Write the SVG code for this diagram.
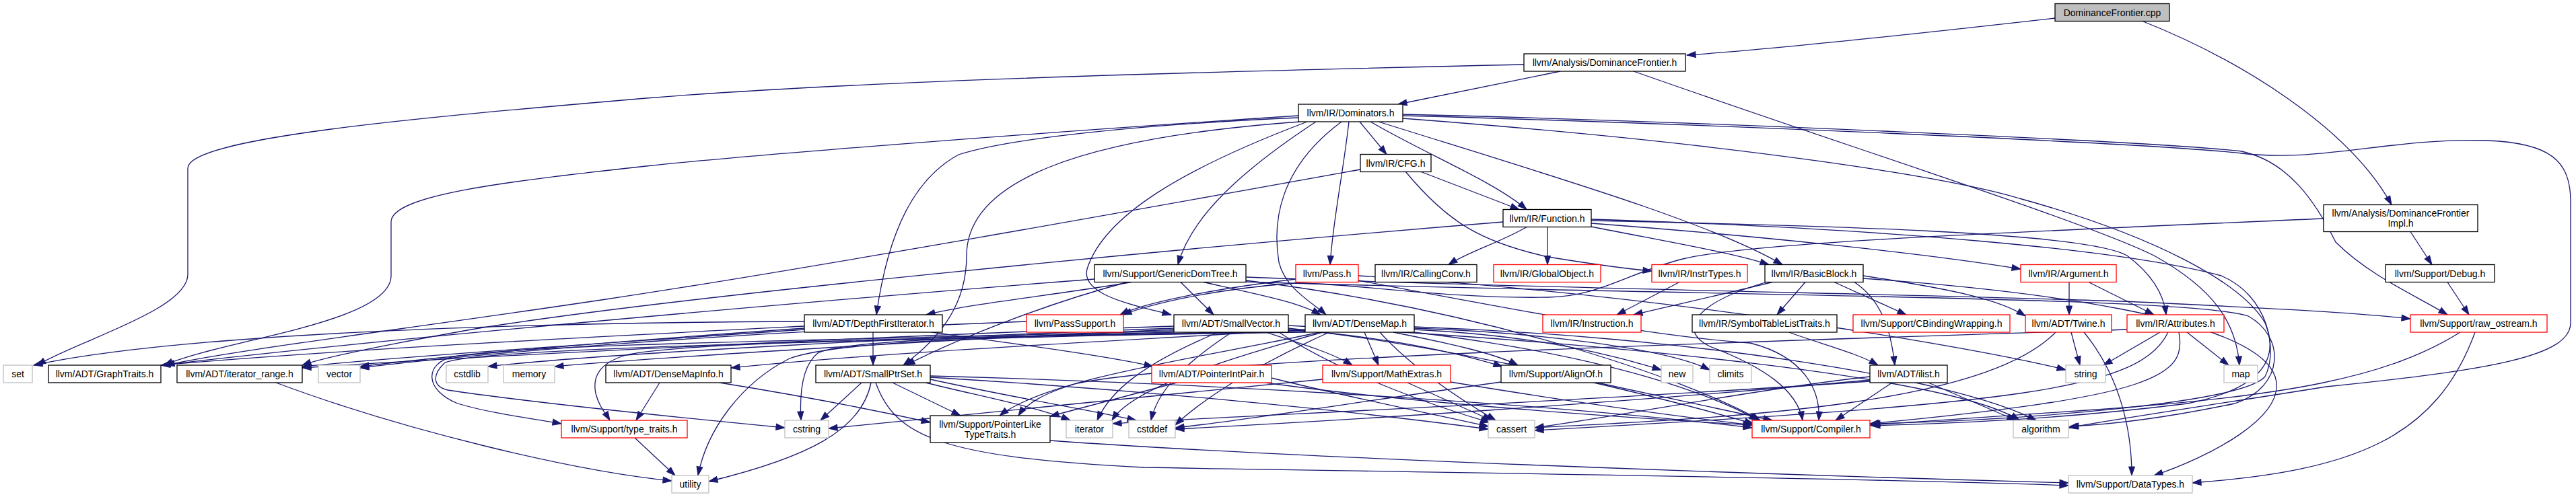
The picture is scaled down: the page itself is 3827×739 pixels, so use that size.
<svg xmlns="http://www.w3.org/2000/svg" width="3827" height="739" viewBox="0 0 3827 739">
<style>
.n rect{fill:#fff;stroke:#000;stroke-width:1.3}
.n.r rect{stroke:#ff0000}
.n.g rect{stroke:#bfbfbf}
.n.root rect{fill:#bfbfbf}
.n text{font-family:"Liberation Sans",Arial,sans-serif;font-size:14px;text-anchor:middle;fill:#000}
#edges path{fill:none;stroke:#191970;stroke-width:1.3;marker-end:url(#a)}
</style>
<defs>
<marker id="a" markerUnits="userSpaceOnUse" markerWidth="15" markerHeight="11" refX="13" refY="4.5" orient="auto" overflow="visible">
<path d="M0,0 L13,4.5 L0,9 z" fill="#191970" stroke="#191970" stroke-width="1"/>
</marker>
</defs>
<rect width="3827" height="739" fill="#fff"/>
<g id="edges">
<path d="M3053,27 C2850,50 2650,72 2506,82"/>
<path d="M3183,31.5 C3330,90 3490,190 3553,304.5"/>
<path d="M2318,106 L2077,155"/>
<path d="M2264,96 C1900,104 1300,118 960,146 C620,175 279,205 279,250 L279,408 C279,460 120,505 55,543"/>
<path d="M2427,106 C2750,220 3100,330 3200,380 C3290,430 3322,480 3327,543"/>
<path d="M1929,172 C1500,200 1100,232 960,247 C750,270 581,290 581,330 L581,410 C581,480 330,505 244,543"/>
<path d="M1929,175 C1700,185 1500,205 1424,230 C1360,265 1320,340 1302,468"/>
<path d="M1932,181 C1600,205 1436,270 1436,380 C1436,450 1400,500 1342,543"/>
<path d="M1942,181 C1760,250 1640,320 1615,400 C1605,440 1690,455 1740,468"/>
<path d="M1955,181 C1850,250 1770,320 1750,393.5"/>
<path d="M1993,181 C1900,250 1890,330 1900,390 C1910,430 1950,450 1970,468"/>
<path d="M2004,181 C1995,260 1980,330 1976,393.5"/>
<path d="M2020,181 L2060,229.5"/>
<path d="M2036,181 C2120,230 2220,270 2268,311.5"/>
<path d="M2048,181 C2300,260 2540,330 2648,393.5"/>
<path d="M2084,170 C2500,180 3200,210 3330,225 C3400,240 3440,300 3470,360 C3520,410 3590,440 3636,468"/>
<path d="M2084,172 C2500,183 3200,213 3330,228 C3450,242 3550,205 3693,209 C3790,212 3819,240 3819,300 L3819,480 C3819,530 3700,550 3456,575 C3300,600 3150,622 3073,636"/>
<path d="M2084,176 C2600,215 2900,265 3000,295 C3200,350 3330,420 3365,480 C3390,540 3350,580 3250,600 C3050,625 2880,630 2780,633"/>
<path d="M2021,252 C1700,310 1200,400 900,445 C600,490 350,520 246,543"/>
<path d="M2110,255 L2257,311.5"/>
<path d="M2088,255 C2150,330 2200,360 2300,382 C2380,395 2420,400 2454,403"/>
<path d="M2233,330 C1800,365 1000,440 700,490 C560,515 480,532 449,543"/>
<path d="M2269,337 C2230,360 2180,375 2152,393.5"/>
<path d="M2299,337 L2299,393.5"/>
<path d="M2364,337 C2480,360 2570,375 2628,393.5"/>
<path d="M2364,332 C2600,350 2850,375 3002,400"/>
<path d="M2364,328 C2700,335 3100,345 3160,380 C3200,410 3215,440 3218,468"/>
<path d="M2364,326 C2800,340 3150,370 3300,410 C3370,440 3385,520 3365,560 C3330,600 3000,625 2780,630"/>
<path d="M3581,344.5 L3613,393.5"/>
<path d="M3452,325 C3000,345 2600,360 2500,385 C2420,405 2380,440 2300,442 C2150,445 2000,420 1925,421 C1800,430 1710,452 1668,468"/>
<path d="M3636,419.5 L3668,468"/>
<path d="M3655,494 C3550,560 3400,590 3100,610 C2950,620 2850,628 2778,632"/>
<path d="M3677,494 C3620,650 3500,700 3257,718"/>
<path d="M1626,415 C1300,440 600,500 240,543"/>
<path d="M1681,419.5 C1560,440 1450,450 1376,468"/>
<path d="M1675,419.5 C1560,450 1430,500 1346,543"/>
<path d="M1754,419.5 L1803,468"/>
<path d="M1788,419.5 C1880,440 1930,450 1962,468"/>
<path d="M1851,412 C2300,430 3000,440 3200,450 C3400,460 3500,465 3581,474"/>
<path d="M1851,417 C2200,460 2500,560 2615,625"/>
<path d="M1851,419 C2500,440 3250,440 3340,470 C3395,500 3395,575 3320,600 C3200,625 3120,632 3075,634"/>
<path d="M1925,415 C1800,430 1700,450 1664,468"/>
<path d="M2018,417 C2250,460 2450,500 2600,510 C2680,530 2705,580 2702,625"/>
<path d="M2018,410 C2500,440 2950,520 3069,550"/>
<path d="M2495,419.5 L2402,468"/>
<path d="M2633,419.5 C2550,440 2480,455 2427,468"/>
<path d="M2682,419.5 L2640,468"/>
<path d="M2725,419.5 L2832,468"/>
<path d="M2624,419.5 C2520,450 2490,490 2540,515 C2620,545 2670,580 2678,625"/>
<path d="M2768,410 C2900,430 2970,445 3009,470"/>
<path d="M2755,419.5 C2800,450 2810,500 2815,543"/>
<path d="M2768,414 C3000,430 3350,470 3380,560 C3400,620 3280,680 3200,707"/>
<path d="M3074,419.5 L3074,468"/>
<path d="M3103,419.5 L3200,468"/>
<path d="M3077,494 L3090,543"/>
<path d="M3096,494 C3150,560 3167,640 3167,707"/>
<path d="M3054,494 C2950,600 2600,620 2280,636"/>
<path d="M3209,494 L3125,543"/>
<path d="M3249,494 L3311,543"/>
<path d="M3221,494 C3180,580 3000,600 2280,640"/>
<path d="M3237,494 C3250,560 3200,590 2778,630"/>
<path d="M3160,490 C2700,505 1800,530 1600,570 C1550,585 1525,600 1513,618"/>
<path d="M1195,485 C900,500 500,520 239,543"/>
<path d="M1195,490 C900,510 600,530 449,545"/>
<path d="M1195,478 C700,480 250,500 50,543"/>
<path d="M1195,488 C950,505 700,525 535,545"/>
<path d="M1297,494 L1297,543"/>
<path d="M1384,494 C1500,510 1650,530 1713,545"/>
<path d="M1744,485 C1300,500 700,530 449,547"/>
<path d="M1744,488 C1400,500 900,525 725,545"/>
<path d="M1744,490 C1400,505 1000,530 824,545"/>
<path d="M1744,492 C1300,505 800,510 674,530 C630,540 630,580 680,600 C730,615 790,622 834,630"/>
<path d="M1939,491 C1400,505 700,515 660,540 C640,560 645,575 665,580 C800,600 1000,620 1166,636"/>
<path d="M1744,494 C1500,500 1250,505 1215,525 C1190,545 1188,590 1190,625"/>
<path d="M1914,490 C2050,500 2150,520 2232,545"/>
<path d="M1880,494 C1930,510 1980,525 2009,543"/>
<path d="M1914,488 C2200,520 2500,600 2605,630"/>
<path d="M1914,484 C2400,510 2900,560 3000,625"/>
<path d="M1900,494 C2000,560 2150,610 2213,628"/>
<path d="M1830,494 C1760,540 1720,580 1710,625"/>
<path d="M1810,494 C1700,540 1650,580 1630,625"/>
<path d="M1939,490 C1600,510 1300,525 1086,547"/>
<path d="M2070,494 C2150,510 2220,525 2255,543"/>
<path d="M2027,494 L2048,543"/>
<path d="M2101,490 C2300,500 2400,530 2468,550"/>
<path d="M2101,488 C2300,495 2480,520 2540,550"/>
<path d="M2101,494 C2400,530 2550,590 2612,625"/>
<path d="M2050,494 C2100,550 2180,600 2222,625"/>
<path d="M1960,494 C1800,530 1560,560 1485,618"/>
<path d="M1965,494 C1800,540 1680,580 1652,625"/>
<path d="M1975,494 C1850,550 1780,600 1746,632"/>
<path d="M1939,494 C1500,500 1250,505 1173,533 C1100,570 1050,640 1037,707"/>
<path d="M2101,486 C2500,500 2900,560 3025,625"/>
<path d="M1939,493 C1400,500 1000,510 930,528 C890,540 880,560 885,585 C890,605 900,615 906,625"/>
<path d="M980,569 L945,625"/>
<path d="M1069,569 C1200,590 1300,610 1382,628"/>
<path d="M1280,569 L1219,625"/>
<path d="M1294,569 C1280,640 1200,680 1053,716"/>
<path d="M1301,569 C1330,650 1400,680 1700,695 C2300,705 2800,712 3073,722"/>
<path d="M1326,569 L1427,618"/>
<path d="M1375,569 C1460,590 1540,605 1590,625"/>
<path d="M1382,564 C1500,590 1620,610 1688,625"/>
<path d="M1382,561 C1700,580 2000,610 2211,638"/>
<path d="M1382,559 C1800,570 2300,600 2603,636"/>
<path d="M1748,569 L1560,619"/>
<path d="M1889,562 C2000,590 2150,620 2211,634"/>
<path d="M1880,569 C2100,600 2400,620 2603,632"/>
<path d="M1560,655 C1900,680 2600,705 3073,718"/>
<path d="M943,651 L1003,707"/>
<path d="M410,569 C600,640 850,700 998,715"/>
<path d="M2091,569 L2216,625"/>
<path d="M1965,564 C1700,590 1400,620 1231,637"/>
<path d="M2155,568 C2350,600 2500,620 2603,632"/>
<path d="M2373,569 L2633,625"/>
<path d="M2230,568 C2000,600 1850,625 1746,636"/>
<path d="M2811,569 L2727,625"/>
<path d="M2865,569 L2995,625"/>
<path d="M2778,560 C2600,580 2400,620 2280,636"/>
<path d="M2778,565 C2400,600 2000,625 1746,638"/>
<path d="M2778,567 C2300,600 1800,620 1653,630"/>
<path d="M2658,494 C2700,510 2760,525 2790,543"/>
<path d="M1525,478 C1200,490 800,515 535,547"/>
</g>
<g id="n_cpp" class="n root"><rect x="3053" y="5.5" width="170" height="26"/><text x="3138" y="23.5">DominanceFrontier.cpp</text></g>
<g id="n_dfh" class="n"><rect x="2264" y="80" width="240" height="26"/><text x="2384" y="98">llvm/Analysis/DominanceFrontier.h</text></g>
<g id="n_dom" class="n"><rect x="1929" y="155" width="155" height="26"/><text x="2006.5" y="173">llvm/IR/Dominators.h</text></g>
<g id="n_cfg" class="n"><rect x="2021" y="229.5" width="105" height="26"/><text x="2073.5" y="247.5">llvm/IR/CFG.h</text></g>
<g id="n_func" class="n"><rect x="2233" y="311.5" width="131" height="26"/><text x="2298.5" y="329.5">llvm/IR/Function.h</text></g>
<g id="n_dfimpl" class="n"><rect x="3452" y="304.5" width="229" height="40"/><text x="3566.5" y="322">llvm/Analysis/DominanceFrontier</text><text x="3566.5" y="337">Impl.h</text></g>
<g id="n_gdt" class="n"><rect x="1626" y="393.5" width="225" height="26"/><text x="1738.5" y="411.5">llvm/Support/GenericDomTree.h</text></g>
<g id="n_pass" class="n r"><rect x="1925" y="393.5" width="93" height="26"/><text x="1971.5" y="411.5">llvm/Pass.h</text></g>
<g id="n_cc" class="n"><rect x="2043" y="393.5" width="151" height="26"/><text x="2118.5" y="411.5">llvm/IR/CallingConv.h</text></g>
<g id="n_go" class="n r"><rect x="2219" y="393.5" width="159" height="26"/><text x="2298.5" y="411.5">llvm/IR/GlobalObject.h</text></g>
<g id="n_it" class="n r"><rect x="2454" y="393.5" width="142" height="26"/><text x="2525" y="411.5">llvm/IR/InstrTypes.h</text></g>
<g id="n_bb" class="n"><rect x="2622" y="393.5" width="146" height="26"/><text x="2695" y="411.5">llvm/IR/BasicBlock.h</text></g>
<g id="n_arg" class="n r"><rect x="3002" y="393.5" width="142" height="26"/><text x="3073" y="411.5">llvm/IR/Argument.h</text></g>
<g id="n_debug" class="n"><rect x="3544" y="393.5" width="162" height="26"/><text x="3625" y="411.5">llvm/Support/Debug.h</text></g>
<g id="n_dfi" class="n"><rect x="1195" y="468" width="205" height="26"/><text x="1297.5" y="486">llvm/ADT/DepthFirstIterator.h</text></g>
<g id="n_ps" class="n r"><rect x="1525" y="468" width="144" height="26"/><text x="1597" y="486">llvm/PassSupport.h</text></g>
<g id="n_sv" class="n"><rect x="1744" y="468" width="170" height="26"/><text x="1829" y="486">llvm/ADT/SmallVector.h</text></g>
<g id="n_dm" class="n"><rect x="1939" y="468" width="162" height="26"/><text x="2020" y="486">llvm/ADT/DenseMap.h</text></g>
<g id="n_inst" class="n r"><rect x="2292" y="468" width="146" height="26"/><text x="2365" y="486">llvm/IR/Instruction.h</text></g>
<g id="n_stlt" class="n"><rect x="2514" y="468" width="215" height="26"/><text x="2621.5" y="486">llvm/IR/SymbolTableListTraits.h</text></g>
<g id="n_cbw" class="n r"><rect x="2753" y="468" width="233" height="26"/><text x="2869.5" y="486">llvm/Support/CBindingWrapping.h</text></g>
<g id="n_twine" class="n r"><rect x="3009" y="468" width="128" height="26"/><text x="3073" y="486">llvm/ADT/Twine.h</text></g>
<g id="n_attr" class="n r"><rect x="3160" y="468" width="144" height="26"/><text x="3232" y="486">llvm/IR/Attributes.h</text></g>
<g id="n_ros" class="n r"><rect x="3581" y="468" width="203" height="26"/><text x="3682.5" y="486">llvm/Support/raw_ostream.h</text></g>
<g id="n_set" class="n g"><rect x="5" y="543" width="43" height="26"/><text x="26.5" y="561">set</text></g>
<g id="n_gt" class="n"><rect x="72" y="543" width="167" height="26"/><text x="155.5" y="561">llvm/ADT/GraphTraits.h</text></g>
<g id="n_ir" class="n"><rect x="263" y="543" width="186" height="26"/><text x="356" y="561">llvm/ADT/iterator_range.h</text></g>
<g id="n_vector" class="n g"><rect x="473" y="543" width="62" height="26"/><text x="504" y="561">vector</text></g>
<g id="n_cstdlib" class="n g"><rect x="663" y="543" width="62" height="26"/><text x="694" y="561">cstdlib</text></g>
<g id="n_memory" class="n g"><rect x="748" y="543" width="76" height="26"/><text x="786" y="561">memory</text></g>
<g id="n_dmi" class="n"><rect x="900" y="543" width="186" height="26"/><text x="993" y="561">llvm/ADT/DenseMapInfo.h</text></g>
<g id="n_sps" class="n"><rect x="1212" y="543" width="170" height="26"/><text x="1297" y="561">llvm/ADT/SmallPtrSet.h</text></g>
<g id="n_pip" class="n r"><rect x="1711" y="543" width="178" height="26"/><text x="1800" y="561">llvm/ADT/PointerIntPair.h</text></g>
<g id="n_me" class="n r"><rect x="1965" y="543" width="190" height="26"/><text x="2060" y="561">llvm/Support/MathExtras.h</text></g>
<g id="n_ao" class="n"><rect x="2230" y="543" width="163" height="26"/><text x="2311.5" y="561">llvm/Support/AlignOf.h</text></g>
<g id="n_new" class="n g"><rect x="2468" y="543" width="47" height="26"/><text x="2491.5" y="561">new</text></g>
<g id="n_climits" class="n g"><rect x="2540" y="543" width="62" height="26"/><text x="2571" y="561">climits</text></g>
<g id="n_ilist" class="n"><rect x="2778" y="543" width="115" height="26"/><text x="2835.5" y="561">llvm/ADT/ilist.h</text></g>
<g id="n_string" class="n g"><rect x="3069" y="543" width="59" height="26"/><text x="3098.5" y="561">string</text></g>
<g id="n_map" class="n g"><rect x="3304" y="543" width="50" height="26"/><text x="3329" y="561">map</text></g>
<g id="n_tt" class="n r"><rect x="834" y="625" width="187" height="26"/><text x="927.5" y="643">llvm/Support/type_traits.h</text></g>
<g id="n_cstring" class="n g"><rect x="1166" y="625" width="65" height="26"/><text x="1198.5" y="643">cstring</text></g>
<g id="n_pltt" class="n"><rect x="1382" y="618" width="178" height="40"/><text x="1471" y="635.5">llvm/Support/PointerLike</text><text x="1471" y="650.5">TypeTraits.h</text></g>
<g id="n_iterator" class="n g"><rect x="1584" y="625" width="69" height="26"/><text x="1618.5" y="643">iterator</text></g>
<g id="n_cstddef" class="n g"><rect x="1677" y="625" width="69" height="26"/><text x="1711.5" y="643">cstddef</text></g>
<g id="n_cassert" class="n g"><rect x="2211" y="625" width="69" height="26"/><text x="2245.5" y="643">cassert</text></g>
<g id="n_comp" class="n r"><rect x="2603" y="625" width="175" height="26"/><text x="2690.5" y="643">llvm/Support/Compiler.h</text></g>
<g id="n_algo" class="n g"><rect x="2991" y="625" width="82" height="26"/><text x="3032" y="643">algorithm</text></g>
<g id="n_utility" class="n g"><rect x="998" y="707" width="55" height="26"/><text x="1025.5" y="725">utility</text></g>
<g id="n_dt" class="n g"><rect x="3073" y="707" width="184" height="26"/><text x="3165" y="725">llvm/Support/DataTypes.h</text></g>
</svg>
